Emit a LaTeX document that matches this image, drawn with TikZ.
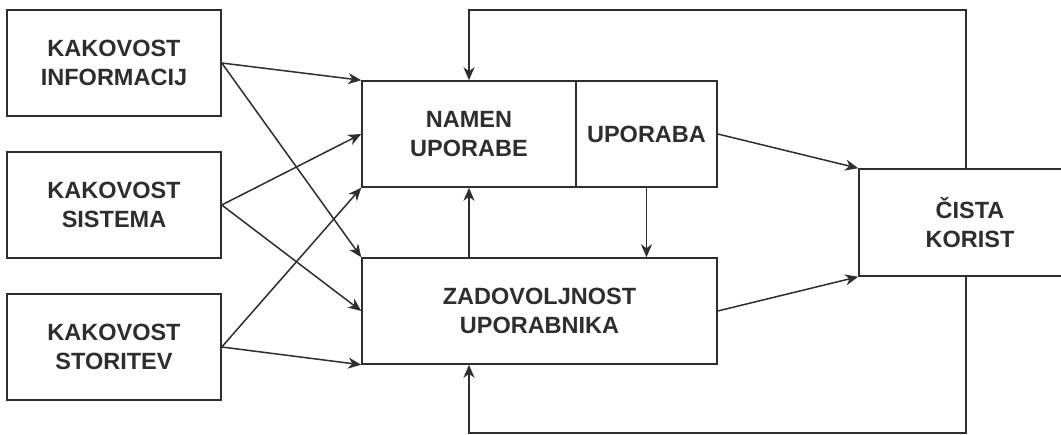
\documentclass[tikz,border=0pt]{standalone}
\usepackage{fontspec}
\setmainfont{Liberation Sans}
\usetikzlibrary{arrows.meta,calc}
\definecolor{ink}{HTML}{2E2E2E}
\begin{document}
\begin{tikzpicture}[x=1pt,y=-1pt,
  box/.style={draw=ink,line width=1.5pt,rectangle,align=center,inner sep=0pt,
    font=\fontsize{23.5}{29}\selectfont\bfseries,text=ink},
  arr/.style={draw=ink,line width=1.5pt,-{Stealth[length=13pt,width=11pt,inset=4pt]}},
  ln/.style={draw=ink,line width=1.5pt}]
\useasboundingbox (0,0) rectangle (1061,435);
\clip (0,0) rectangle (1061,435);
\fill[white] (0,0) rectangle (1061,435);
\node[box,minimum width=214pt,minimum height=106pt] (b1) at (114,63) {KAKOVOST\\INFORMACIJ};
\node[box,minimum width=214pt,minimum height=106pt] (b2) at (114,205) {KAKOVOST\\SISTEMA};
\node[box,minimum width=214pt,minimum height=106pt] (b3) at (114,347) {KAKOVOST\\STORITEV};
\node[box,minimum width=214pt,minimum height=106pt] (nam) at (469,134) {NAMEN\\UPORABE};
\node[box,minimum width=141pt,minimum height=106pt] (upo) at (646.5,134) {UPORABA};
\node[box,minimum width=355pt,minimum height=106pt] (zad) at (539.5,311) {ZADOVOLJNOST\\UPORABNIKA};
\node[box,minimum width=222pt,minimum height=107pt] (cis) at (970,222.5) {ČISTA\\KORIST};
\coordinate (fbx) at (966,0);
\coordinate (top) at (0,10);
\coordinate (bot) at (0,433);
% inputs
\draw[arr] (b1.east) -- (nam.north west);
\draw[arr] (b1.east) -- (zad.north west);
\draw[arr] (b2.east) -- (nam.west);
\draw[arr] (b2.east) -- (zad.west);
\draw[arr] (b3.east) -- (nam.south west);
\draw[arr] (b3.east) -- (zad.south west);
% internal
\draw[arr] (zad.north -| nam.south) -- (nam.south);
\draw[arr] (upo.south) -- (upo.south |- zad.north);
% to net benefit
\draw[arr] (upo.east) -- (cis.north west);
\draw[arr] (zad.east) -- (cis.south west);
% feedback
\draw[arr] (cis.north -| fbx) -- (fbx |- top) -| (nam.north);
\draw[arr] (cis.south -| fbx) -- (fbx |- bot) -| (zad.south -| nam.south);
\end{tikzpicture}
\end{document}
